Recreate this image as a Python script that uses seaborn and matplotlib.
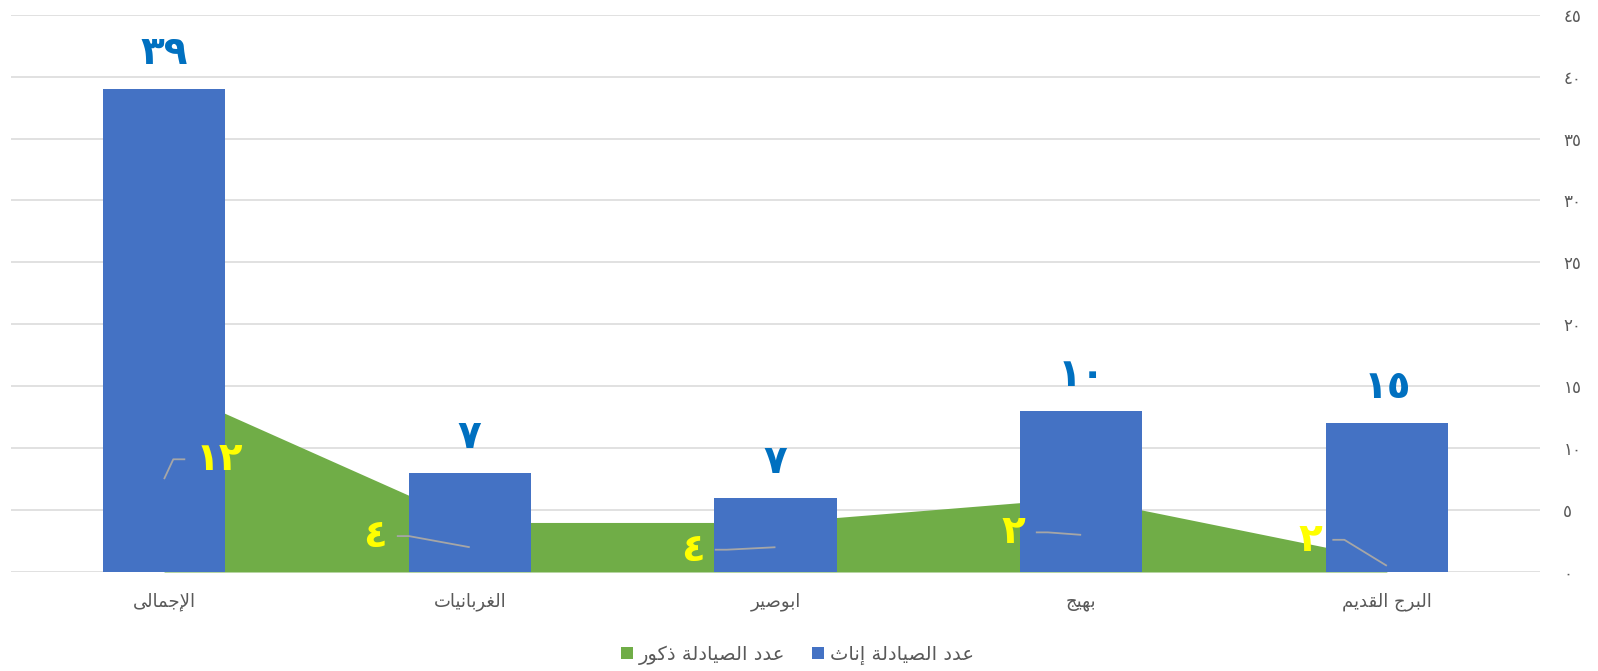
import numpy as np
import pandas as pd
import matplotlib
matplotlib.use("Agg")
import matplotlib.pyplot as plt
import seaborn as sns
from matplotlib.patches import Patch
from matplotlib.ticker import FixedLocator, FixedFormatter

# ---------------- data ----------------
categories = ['الإجمالى', 'الغربانيات', 'ابوصير', 'بهيج', 'البرج القديم']
female = [39, 8, 6, 13, 12]          # bar heights (blue)
male = [15, 4, 4, 6, 1]              # area heights (green)
female_labels = ['٣٩', '٧', '٧', '١٠', '١٥']
male_labels = ['١٢', '٤', '٤', '٢', '٢']
series_female = 'عدد الصيادلة إناث'
series_male = 'عدد الصيادلة ذكور'
y_ticks = [0, 5, 10, 15, 20, 25, 30, 35, 40, 45]
y_tick_labels = ['٠', '٥', '١٠', '١٥', '٢٠', '٢٥', '٣٠', '٣٥', '٤٠', '٤٥']

# layout: where the (moved) green data labels sit, in data coords
male_label_pos = [(0.18, 9.1), (0.69, 2.9), (1.73, 1.8), (2.78, 3.2), (3.75, 2.6)]

# ---------------- minimal Arabic shaping ----------------
AR_FORMS = {
    '\u0622': ('\uFE81', '\uFE82', None, None),
    '\u0623': ('\uFE83', '\uFE84', None, None),
    '\u0625': ('\uFE87', '\uFE88', None, None),
    '\u0627': ('\uFE8D', '\uFE8E', None, None),
    '\u0628': ('\uFE8F', '\uFE90', '\uFE91', '\uFE92'),
    '\u0629': ('\uFE93', '\uFE94', None, None),
    '\u062A': ('\uFE95', '\uFE96', '\uFE97', '\uFE98'),
    '\u062B': ('\uFE99', '\uFE9A', '\uFE9B', '\uFE9C'),
    '\u062C': ('\uFE9D', '\uFE9E', '\uFE9F', '\uFEA0'),
    '\u062D': ('\uFEA1', '\uFEA2', '\uFEA3', '\uFEA4'),
    '\u062E': ('\uFEA5', '\uFEA6', '\uFEA7', '\uFEA8'),
    '\u062F': ('\uFEA9', '\uFEAA', None, None),
    '\u0630': ('\uFEAB', '\uFEAC', None, None),
    '\u0631': ('\uFEAD', '\uFEAE', None, None),
    '\u0632': ('\uFEAF', '\uFEB0', None, None),
    '\u0633': ('\uFEB1', '\uFEB2', '\uFEB3', '\uFEB4'),
    '\u0634': ('\uFEB5', '\uFEB6', '\uFEB7', '\uFEB8'),
    '\u0635': ('\uFEB9', '\uFEBA', '\uFEBB', '\uFEBC'),
    '\u0636': ('\uFEBD', '\uFEBE', '\uFEBF', '\uFEC0'),
    '\u0637': ('\uFEC1', '\uFEC2', '\uFEC3', '\uFEC4'),
    '\u0638': ('\uFEC5', '\uFEC6', '\uFEC7', '\uFEC8'),
    '\u0639': ('\uFEC9', '\uFECA', '\uFECB', '\uFECC'),
    '\u063A': ('\uFECD', '\uFECE', '\uFECF', '\uFED0'),
    '\u0641': ('\uFED1', '\uFED2', '\uFED3', '\uFED4'),
    '\u0642': ('\uFED5', '\uFED6', '\uFED7', '\uFED8'),
    '\u0643': ('\uFED9', '\uFEDA', '\uFEDB', '\uFEDC'),
    '\u0644': ('\uFEDD', '\uFEDE', '\uFEDF', '\uFEE0'),
    '\u0645': ('\uFEE1', '\uFEE2', '\uFEE3', '\uFEE4'),
    '\u0646': ('\uFEE5', '\uFEE6', '\uFEE7', '\uFEE8'),
    '\u0647': ('\uFEE9', '\uFEEA', '\uFEEB', '\uFEEC'),
    '\u0648': ('\uFEED', '\uFEEE', None, None),
    '\u0649': ('\uFEEF', '\uFEF0', '\uFBE8', '\uFBE9'),
    '\u064A': ('\uFEF1', '\uFEF2', '\uFEF3', '\uFEF4'),
}
LAM_ALEF = {'\u0622': ('\uFEF5', '\uFEF6'), '\u0623': ('\uFEF7', '\uFEF8'),
            '\u0625': ('\uFEF9', '\uFEFA'), '\u0627': ('\uFEFB', '\uFEFC')}


def shape(text):
    toks = []
    i = 0
    while i < len(text):
        c = text[i]
        if c == '\u0644' and i + 1 < len(text) and text[i + 1] in LAM_ALEF:
            toks.append(('LA', text[i + 1]))
            i += 2
        else:
            toks.append(('C', c))
            i += 1

    def joins_prev(t):
        return t[0] == 'LA' or t[1] in AR_FORMS

    def joins_next(t):
        if t[0] == 'LA':
            return False
        f = AR_FORMS.get(t[1])
        return f is not None and f[2] is not None

    out = []
    for k, t in enumerate(toks):
        prev = toks[k - 1] if k > 0 else None
        nxt = toks[k + 1] if k + 1 < len(toks) else None
        jp = prev is not None and joins_next(prev) and joins_prev(t)
        jn = nxt is not None and joins_next(t) and joins_prev(nxt)
        if t[0] == 'LA':
            out.append(LAM_ALEF[t[1]][1 if jp else 0])
        elif t[1] in AR_FORMS:
            f = AR_FORMS[t[1]]
            if jp and jn:
                g = f[3]
            elif jp:
                g = f[1]
            elif jn:
                g = f[2]
            else:
                g = f[0]
            out.append(g)
        else:
            out.append(t[1])
    return ''.join(reversed(out))


# ---------------- styling ----------------
sns.set_theme(style="white")
plt.rcParams['font.family'] = ['DejaVu Sans']

BLUE = '#4472C4'
GREEN = '#70AD47'
GRID = '#D9D9D9'
TXT = '#595959'

W, H = 1598, 671
fig = plt.figure(figsize=(W / 100, H / 100), dpi=100)
ax = fig.add_axes([11.2 / W, (H - 572) / H, (1539.7 - 11.2) / W, (572 - 14.7) / H])

df = pd.DataFrame({'category': [shape(c) for c in categories],
                   'female': female, 'male': male})
xpos = np.arange(len(categories))

ax.fill_between(xpos, df['male'], 0, color=GREEN, linewidth=0, zorder=1)
sns.barplot(data=df, x='category', y='female', color=BLUE, saturation=1,
            width=0.4, linewidth=0, zorder=2, ax=ax)

ax.set_xlim(-0.5, len(categories) - 0.5)
ax.set_ylim(0, 45)
ax.set_xlabel('')
ax.set_ylabel('')

ax.yaxis.tick_right()
ax.yaxis.set_major_locator(FixedLocator(y_ticks))
ax.yaxis.set_major_formatter(FixedFormatter(y_tick_labels))
ax.tick_params(axis='y', length=0, pad=17, labelsize=12, labelcolor=TXT)
ax.tick_params(axis='x', length=0, pad=15, labelsize=13, labelcolor=TXT)

ax.grid(axis='y', color=GRID, linewidth=1.1)
ax.grid(axis='x', visible=False)
ax.set_axisbelow(True)
for s in ax.spines.values():
    s.set_visible(False)

# blue data labels
for i, (v, lab) in enumerate(zip(female, female_labels)):
    ax.annotate(lab, (i, v), xytext=(0, 18), textcoords='offset points',
                ha='center', va='baseline', fontsize=28, fontweight='bold',
                color='#0070C0', zorder=5)

# green data labels (yellow) with leader lines
texts = []
for (lx, ly), lab in zip(male_label_pos, male_labels):
    t = ax.text(lx, ly, lab, ha='center', va='center', fontsize=28,
                fontweight='bold', color='#FFFF00', zorder=5)
    texts.append(t)

fig.canvas.draw()
renderer = fig.canvas.get_renderer()
inv = ax.transData.inverted()
for i, t in enumerate(texts):
    bb = t.get_window_extent(renderer)
    ax_px, ay_px = ax.transData.transform((i, male[i] / 2))
    lx_px, ly_px = ax.transData.transform(male_label_pos[i])
    side = 1 if ax_px > lx_px else -1
    start = (lx_px + side * (bb.width / 2 + 10), ly_px)
    elbow = (start[0] + side * 12, ly_px)
    pts = inv.transform([start, elbow, (ax_px, ay_px)])
    ax.plot(pts[:, 0], pts[:, 1], color='#A6A6A6', linewidth=1.3, zorder=4,
            solid_capstyle='butt')

# legend
handles = [Patch(facecolor=GREEN, edgecolor='none', label=shape(series_male)),
           Patch(facecolor=BLUE, edgecolor='none', label=shape(series_female))]
leg = fig.legend(handles=handles, loc='center', bbox_to_anchor=(0.499, (H - 655) / H),
                 ncol=2, frameon=False, fontsize=14, handlelength=0.6,
                 handleheight=0.6, handletextpad=0.3, columnspacing=1.4)
for txt in leg.get_texts():
    txt.set_color(TXT)

fig.savefig('out.png', dpi=100)
